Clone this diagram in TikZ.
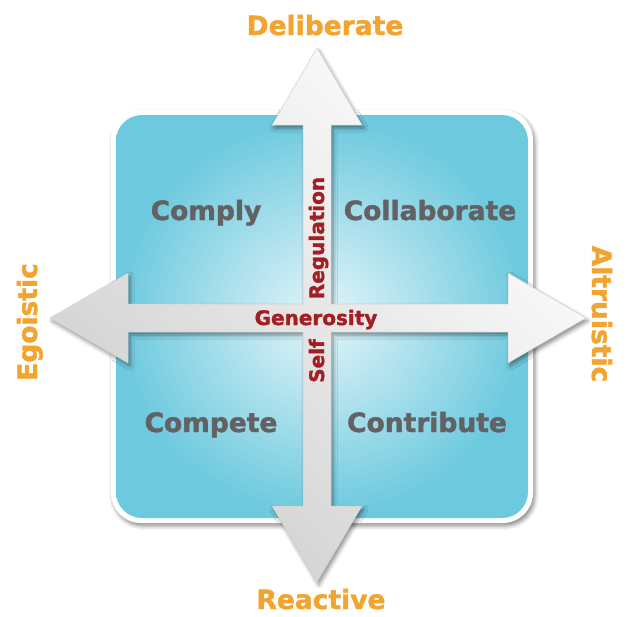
\documentclass[tikz,border=0pt]{standalone}
\usepackage{fontspec}
\setmainfont{DejaVu Sans}[BoldFeatures={FakeBold=1.6}]
\usetikzlibrary{shadows.blur}

\definecolor{tealedge}{RGB}{108,201,222}
\definecolor{tealmid}{RGB}{228,245,250}
\definecolor{labelgray}{RGB}{98,98,100}
\definecolor{axisorange}{RGB}{242,164,49}
\definecolor{axisred}{RGB}{163,30,34}

\tikzset{
  softshadow/.style={blur shadow={shadow xshift=2pt, shadow yshift=-3pt,
      shadow blur radius=4pt, shadow opacity=45}},
  quadlabel/.style={text=labelgray, font=\fontsize{26.5}{32}\selectfont\bfseries,
      inner sep=0pt, anchor=base},
  axislabel/.style={text=axisorange, font=\fontsize{26.5}{32}\selectfont\bfseries,
      inner sep=0pt, anchor=base},
  dimlabel/.style={text=axisred, font=\fontsize{20}{24}\selectfont\bfseries,
      inner sep=0pt, anchor=base},
}

\begin{document}
\begin{tikzpicture}[x=1pt, y=-1pt]
\useasboundingbox (0,0) rectangle (626,616);

% white rounded frame with its shadow
\path[softshadow, fill=white, rounded corners=30pt] (111,110) rectangle (533,523);
% blue panel, light in the middle
\path[rounded corners=26pt, inner color=tealmid, outer color=tealedge]
  (116,115) rectangle (528,518);

% the four-headed cross of the two axes
\path[softshadow, draw=gray!35, line width=0.5pt,
      top color=white, middle color=white, bottom color=gray!38, shading angle=-45]
  (317,48) -- (362,125) -- (331,125) -- (331,304) -- (508,304) -- (508,273)
  -- (586,318) -- (508,363) -- (508,332) -- (331,332) -- (331,506) -- (362,506)
  -- (317,582) -- (272,506) -- (303,506) -- (303,332) -- (128,332) -- (128,363)
  -- (50,318) -- (128,273) -- (128,304) -- (303,304) -- (303,125) -- (272,125)
  -- cycle;

% quadrant names
\node[quadlabel] (comply)      at (206,220) {Comply};
\node[quadlabel] (collaborate) at (430,220) {Collaborate};
\node[quadlabel] (compete)     at (211,432) {Compete};
\node[quadlabel] (contribute)  at (427,432) {Contribute};

% axis ends
\node[axislabel] (deliberate) at (325,35)  {Deliberate};
\node[axislabel] (reactive)   at (321,609) {Reactive};
\node[axislabel, rotate=90]  (egoistic)   at (37,322)  {Egoistic};
\node[axislabel, rotate=-90] (altruistic) at (592,314) {Altruistic};

% axis names along the shafts
\node[dimlabel] (generosity) at (316,325) {Generosity};
\node[dimlabel, rotate=90] (regulation) at (324,238) {Regulation};
\node[dimlabel, rotate=90] (self)       at (324,361) {Self};
\end{tikzpicture}
\end{document}
